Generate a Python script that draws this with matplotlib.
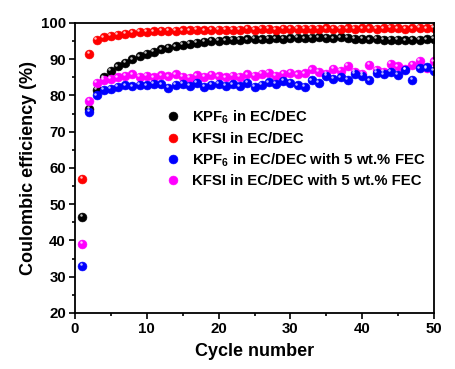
import matplotlib
matplotlib.use("Agg")
import matplotlib.pyplot as plt
import matplotlib.transforms as mtransforms
import numpy as np

plt.rcParams['font.family'] = ['Liberation Sans', 'DejaVu Sans']
plt.rcParams['font.weight'] = 'bold'
plt.rcParams['mathtext.fontset'] = 'custom'
plt.rcParams['mathtext.bf'] = 'Liberation Sans:bold'
plt.rcParams['mathtext.rm'] = 'Liberation Sans:bold'

cycles = list(range(1, 51))

kpf6 = [46.5, 76.3, 81.5, 85.0, 86.8, 88.0, 89.0, 90.0, 90.8, 91.5,
        92.1, 92.7, 93.2, 93.6, 94.0, 94.3, 94.6, 94.8, 95.0, 95.1,
        95.2, 95.3, 95.4, 95.5, 95.6, 95.5, 95.7, 95.8, 95.7, 95.8,
        95.9, 95.8, 95.9, 96.0, 95.9, 95.8, 96.0, 95.9, 95.7, 95.6,
        95.5, 95.6, 95.4, 95.3, 95.4, 95.2, 95.3, 95.4, 95.5, 95.6]

kfsi = [57.0, 91.5, 95.3, 96.0, 96.5, 96.8, 97.1, 97.3, 97.5, 97.6,
        97.7, 97.8, 97.9, 97.9, 98.0, 98.0, 98.1, 98.0, 98.1, 98.2,
        98.1, 98.2, 98.2, 98.3, 98.2, 98.3, 98.3, 98.2, 98.4, 98.3,
        98.4, 98.4, 98.3, 98.4, 98.5, 98.4, 98.4, 98.5, 98.4, 98.5,
        98.5, 98.4, 98.5, 98.6, 98.5, 98.4, 98.5, 98.6, 98.5, 98.6]

kpf6_fec = [33.0, 75.5, 80.0, 81.5, 81.8, 82.3, 82.8, 82.5, 83.0, 82.8,
            83.3, 83.1, 82.2, 83.0, 83.2, 82.6, 83.4, 82.4, 83.0, 83.3,
            82.7, 83.1, 82.5, 83.4, 82.3, 83.0, 83.6, 83.2, 84.0, 83.4,
            82.8, 82.3, 84.2, 83.5, 85.5, 84.6, 85.0, 84.3, 86.0, 85.5,
            84.2, 86.3, 85.8, 86.5, 85.7, 87.0, 84.3, 87.5, 87.8, 86.8]

kfsi_fec = [39.0, 78.5, 83.5, 84.3, 84.6, 85.0, 85.5, 85.8, 85.2, 85.5,
            85.0, 85.6, 85.3, 85.8, 85.1, 84.8, 85.6, 85.2, 85.7, 85.3,
            85.0, 85.5, 85.2, 85.8, 85.4, 85.9, 86.2, 85.5, 86.0, 86.3,
            85.8, 86.1, 87.2, 86.5, 86.0, 87.3, 86.8, 88.2, 86.5, 86.0,
            88.5, 87.0, 86.5, 88.8, 88.0, 87.2, 88.4, 89.5, 87.5, 89.4]

labels = [r'KPF$_\mathbf{6}$ in EC/DEC',
          'KFSI in EC/DEC',
          r'KPF$_\mathbf{6}$ in EC/DEC with 5 wt.% FEC',
          'KFSI in EC/DEC with 5 wt.% FEC']
colors = ['#000000', '#ff0000', '#0000ff', '#ff00ff']
series = [kpf6, kfsi, kpf6_fec, kfsi_fec]

fig = plt.figure(figsize=(4.56, 3.69), dpi=100)
ax = fig.add_axes([0.1645, 0.1518, 0.7873, 0.7859])

hl = mtransforms.offset_copy(ax.transData, fig=fig, x=-1.2, y=1.2, units='points')
order = [0, 1, 3, 2]
for i in order:
    ax.plot(cycles, series[i], 'o', ms=6.4, color=colors[i],
            mec=colors[i], mew=0.4, linestyle='none', label=labels[i], zorder=2)
    ax.plot(cycles, series[i], 'o', ms=1.8, color='white', alpha=0.75,
            mew=0, linestyle='none', transform=hl, zorder=3)
hs, ls = ax.get_legend_handles_labels()
hmap = dict(zip(ls, hs))
leg = ax.legend([hmap[l] for l in labels], labels, loc='upper left',
                bbox_to_anchor=(0.24, 0.725), frameon=False,
                fontsize=10.7, handlelength=0.8, handletextpad=0.9,
                labelspacing=0.36, borderaxespad=0)

ax.set_xlim(0, 50)
ax.set_ylim(20, 100)
ax.set_xticks(range(0, 51, 10))
ax.set_xticks(range(5, 50, 10), minor=True)
ax.set_yticks(range(20, 101, 10))
ax.set_yticks(range(25, 100, 10), minor=True)
ax.tick_params(axis='both', which='major', direction='out', length=4.5, width=1.2,
               labelsize=10.8, pad=2)
ax.tick_params(axis='both', which='minor', direction='out', length=2.5, width=1.2)
for s in ax.spines.values():
    s.set_linewidth(1.3)
for lab in ax.get_xticklabels() + ax.get_yticklabels():
    lab.set_fontweight('bold')

ax.set_xlabel('Cycle number', fontsize=13, fontweight='bold', labelpad=5)
ax.set_ylabel('Coulombic efficiency (%)', fontsize=13, fontweight='bold', labelpad=3)

fig.savefig('out.png', dpi=100)
